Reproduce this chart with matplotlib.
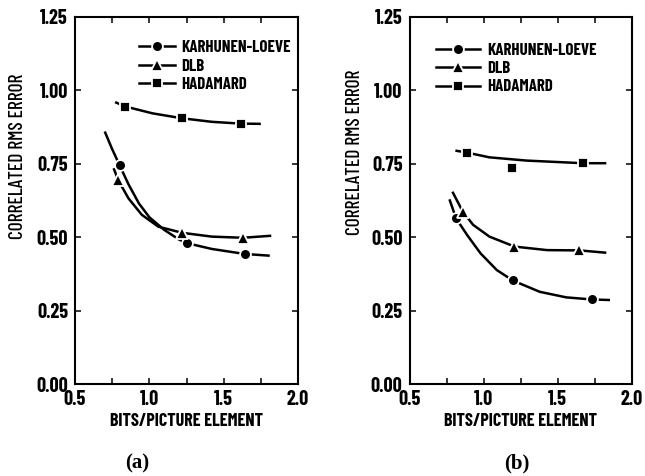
import matplotlib
matplotlib.use("Agg")
import matplotlib.pyplot as plt
from matplotlib import font_manager as fm
from matplotlib.lines import Line2D

# ---------------- data ----------------
# Panel (a)
a_kl_curve_x = [0.70, 0.75, 0.80, 0.86, 0.93, 1.00, 1.10, 1.20, 1.25, 1.42, 1.64, 1.81]
a_kl_curve_y = [0.86, 0.80, 0.745, 0.68, 0.615, 0.568, 0.525, 0.492, 0.48, 0.46, 0.443, 0.437]
a_kl_pts_x = [0.803, 1.251, 1.643]
a_kl_pts_y = [0.746, 0.479, 0.443]

a_dlb_curve_x = [0.76, 0.79, 0.86, 0.95, 1.06, 1.22, 1.42, 1.63, 1.82]
a_dlb_curve_y = [0.735, 0.695, 0.632, 0.576, 0.536, 0.515, 0.502, 0.498, 0.505]
a_dlb_pts_x = [0.791, 1.222, 1.632]
a_dlb_pts_y = [0.695, 0.515, 0.498]

a_had_curve_x = [0.77, 0.84, 1.02, 1.22, 1.42, 1.61, 1.75]
a_had_curve_y = [0.96, 0.945, 0.922, 0.905, 0.893, 0.887, 0.886]
a_had_pts_x = [0.836, 1.222, 1.614]
a_had_pts_y = [0.945, 0.905, 0.887]

# Panel (b)
b_kl_curve_x = [0.77, 0.815, 0.89, 0.98, 1.09, 1.20, 1.38, 1.56, 1.73, 1.855]
b_kl_curve_y = [0.629, 0.564, 0.507, 0.445, 0.388, 0.352, 0.314, 0.295, 0.288, 0.286]
b_kl_pts_x = [0.814, 1.197, 1.731]
b_kl_pts_y = [0.564, 0.354, 0.288]

b_dlb_curve_x = [0.79, 0.86, 0.93, 1.04, 1.21, 1.43, 1.65, 1.83]
b_dlb_curve_y = [0.655, 0.587, 0.542, 0.502, 0.468, 0.456, 0.455, 0.447]
b_dlb_pts_x = [0.859, 1.206, 1.647]
b_dlb_pts_y = [0.587, 0.468, 0.456]

b_had_curve_x = [0.81, 0.89, 1.04, 1.29, 1.67, 1.83]
b_had_curve_y = [0.795, 0.788, 0.772, 0.761, 0.752, 0.752]
b_had_pts_x = [0.886, 1.190, 1.670]
b_had_pts_y = [0.788, 0.735, 0.752]

series_names = ["KARHUNEN-LOEVE", "DLB", "HADAMARD"]
x_ticks = [0.5, 0.75, 1.0, 1.25, 1.5, 1.75, 2.0]
x_tick_labels = ["0.5", "", "1.0", "", "1.5", "", "2.0"]
y_ticks = [0.0, 0.25, 0.5, 0.75, 1.0, 1.25]
y_tick_labels = ["0.00", "0.25", "0.50", "0.75", "1.00", "1.25"]
panel_labels = ["(a)", "(b)"]
x_label = "BITS/PICTURE ELEMENT"
y_label = "CORRELATED RMS ERROR"

# ---------------- fonts ----------------
def has_font(name):
    try:
        fm.findfont(fm.FontProperties(family=name), fallback_to_default=False)
        return True
    except Exception:
        return False

NARROW = "Barlow Condensed" if has_font("Barlow Condensed") else "DejaVu Sans"
SERIF = "Liberation Serif" if has_font("Liberation Serif") else "DejaVu Serif"

# ---------------- figure ----------------
W, H = 645, 476
fig = plt.figure(figsize=(W / 100, H / 100), dpi=100)
fig.patch.set_facecolor("white")

def axes_rect(left_px, right_px, top_px, bottom_px):
    return [left_px / W, 1 - bottom_px / H, (right_px - left_px) / W, (bottom_px - top_px) / H]

ax_a = fig.add_axes(axes_rect(75, 298, 17, 384))
ax_b = fig.add_axes(axes_rect(409.5, 631.5, 17, 384))

markers = ["o", "^", "s"]
msizes = [7.8, 8.6, 7.2]

def draw_panel(ax, curves, pts, legend_anchor, handlelen, ylab_pos, plabel_x):
    for (cx, cy), (px, py), m, ms in zip(curves, pts, markers, msizes):
        ax.plot(cx, cy, color="black", lw=1.8, solid_capstyle="butt",
                solid_joinstyle="round", zorder=2)
        ax.plot(px, py, linestyle="none", marker=m, markersize=ms,
                markerfacecolor="black", markeredgecolor="white",
                markeredgewidth=1.3, zorder=3)
    ax.set_xlim(0.5, 2.0)
    ax.set_ylim(0.0, 1.25)
    ax.set_xticks(x_ticks)
    ax.set_xticklabels(x_tick_labels)
    ax.set_yticks(y_ticks)
    ax.set_yticklabels(y_tick_labels)
    ax.tick_params(direction="in", length=4.5, width=1.1, top=True, right=True,
                   pad=5)
    ax.tick_params(axis="x", pad=4)
    for lab in ax.get_xticklabels() + ax.get_yticklabels():
        lab.set_fontfamily(NARROW)
        lab.set_fontweight("bold")
        lab.set_fontsize(14.5)
    for sp in ax.spines.values():
        sp.set_linewidth(1.5)
    ax.text(0.5, -0.1035, x_label, transform=ax.transAxes, ha="center", va="center",
            fontfamily=NARROW, fontweight="bold", fontsize=13)
    ax.text(ylab_pos[0], ylab_pos[1], y_label, transform=ax.transAxes, ha="center",
            va="center", rotation=90, fontfamily=NARROW, fontweight="medium",
            fontsize=14)
    fig.text(plabel_x[0] / W, 1 - 463 / H, plabel_x[1], ha="center", va="center",
             fontfamily=[SERIF, "DejaVu Serif"], fontweight="bold", fontsize=15)
    handles = [Line2D([], [], color="black", lw=1.8, marker=m, markersize=ms,
                      markerfacecolor="black", markeredgecolor="white",
                      markeredgewidth=1.3)
               for m, ms in zip(markers, msizes)]
    leg = ax.legend(handles, series_names, loc="upper left",
                    bbox_to_anchor=legend_anchor, frameon=False,
                    handlelength=handlelen, handletextpad=0.4,
                    labelspacing=0.2, borderpad=0, borderaxespad=0,
                    prop=fm.FontProperties(family=NARROW, weight="bold", size=12.2))
    return leg

draw_panel(ax_a,
           [(a_kl_curve_x, a_kl_curve_y), (a_dlb_curve_x, a_dlb_curve_y), (a_had_curve_x, a_had_curve_y)],
           [(a_kl_pts_x, a_kl_pts_y), (a_dlb_pts_x, a_dlb_pts_y), (a_had_pts_x, a_had_pts_y)],
           legend_anchor=(0.288, 0.937), handlelen=2.1,
           ylab_pos=(-0.257, 0.62), plabel_x=(137, panel_labels[0]))
draw_panel(ax_b,
           [(b_kl_curve_x, b_kl_curve_y), (b_dlb_curve_x, b_dlb_curve_y), (b_had_curve_x, b_had_curve_y)],
           [(b_kl_pts_x, b_kl_pts_y), (b_dlb_pts_x, b_dlb_pts_y), (b_had_pts_x, b_had_pts_y)],
           legend_anchor=(0.12, 0.93), handlelen=2.6,
           ylab_pos=(-0.245, 0.63), plabel_x=(517, panel_labels[1]))

fig.savefig("out.png", dpi=100)
